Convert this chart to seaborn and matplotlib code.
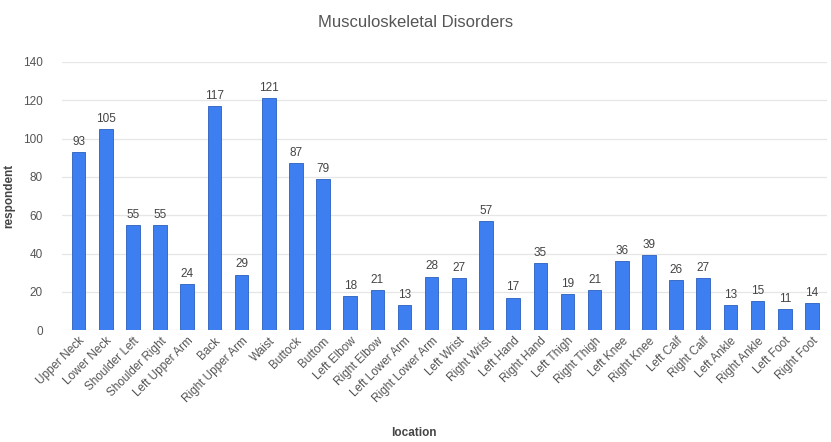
import pandas as pd
import seaborn as sns
import matplotlib.pyplot as plt

locations = ["Upper Neck", "Lower Neck", "Shoulder Left", "Shoulder Right", "Left Upper Arm",
             "Back", "Right Upper Arm", "Waist", "Buttock", "Buttom", "Left Elbow",
             "Right Elbow", "Left Lower Arm", "Right Lower Arm", "Left Wrist", "Right Wrist",
             "Left Hand", "Right Hand", "Left Thigh", "Right Thigh", "Left Knee", "Right Knee",
             "Left Calf", "Right Calf", "Left Ankle", "Right Ankle", "Left Foot", "Right Foot"]
respondents = [93, 105, 55, 55, 24, 117, 29, 121, 87, 79, 18, 21, 13, 28, 27, 57,
               17, 35, 19, 21, 36, 39, 26, 27, 13, 15, 11, 14]
y_ticks = [0, 20, 40, 60, 80, 100, 120, 140]

df = pd.DataFrame({"location": locations, "respondent": respondents})

sns.set_style("white")
plt.rcParams["font.family"] = ["Liberation Sans", "DejaVu Sans"]

fig = plt.figure(figsize=(8.31, 4.42), dpi=100)
ax = fig.add_axes([0.075, 0.253, 0.92, 0.607])

sns.barplot(data=df, x="location", y="respondent", color="#3d7ff0", saturation=1,
            width=0.5, ax=ax, edgecolor="#2a5fc0", linewidth=0.6, zorder=3)

for c in ax.containers:
    ax.bar_label(c, fontsize=8.5, color="#444444", padding=3)

ax.set_ylim(0, 140)
ax.set_yticks(y_ticks)
ax.set_xlim(-0.6, len(locations) - 0.45)
ax.grid(axis="y", color="#e6e6e6", linewidth=0.9, zorder=0)
sns.despine(ax=ax, left=True, bottom=True)
ax.tick_params(axis="both", length=0, colors="#555555", labelsize=8.5)
ax.tick_params(axis="y", pad=14)
plt.setp(ax.get_xticklabels(), rotation=45, ha="right", rotation_mode="anchor")

ax.set_xlabel("location", fontsize=8.5, color="#444444", fontweight="bold")
ax.xaxis.set_label_coords(0.46, -0.36)
ax.set_ylabel("respondent", fontsize=8.5, color="#444444", fontweight="bold")
ax.yaxis.set_label_coords(-0.062, 0.5)
fig.suptitle("Musculoskeletal Disorders", y=0.965, fontsize=12, color="#555555")

fig.savefig("out.png", dpi=100)
